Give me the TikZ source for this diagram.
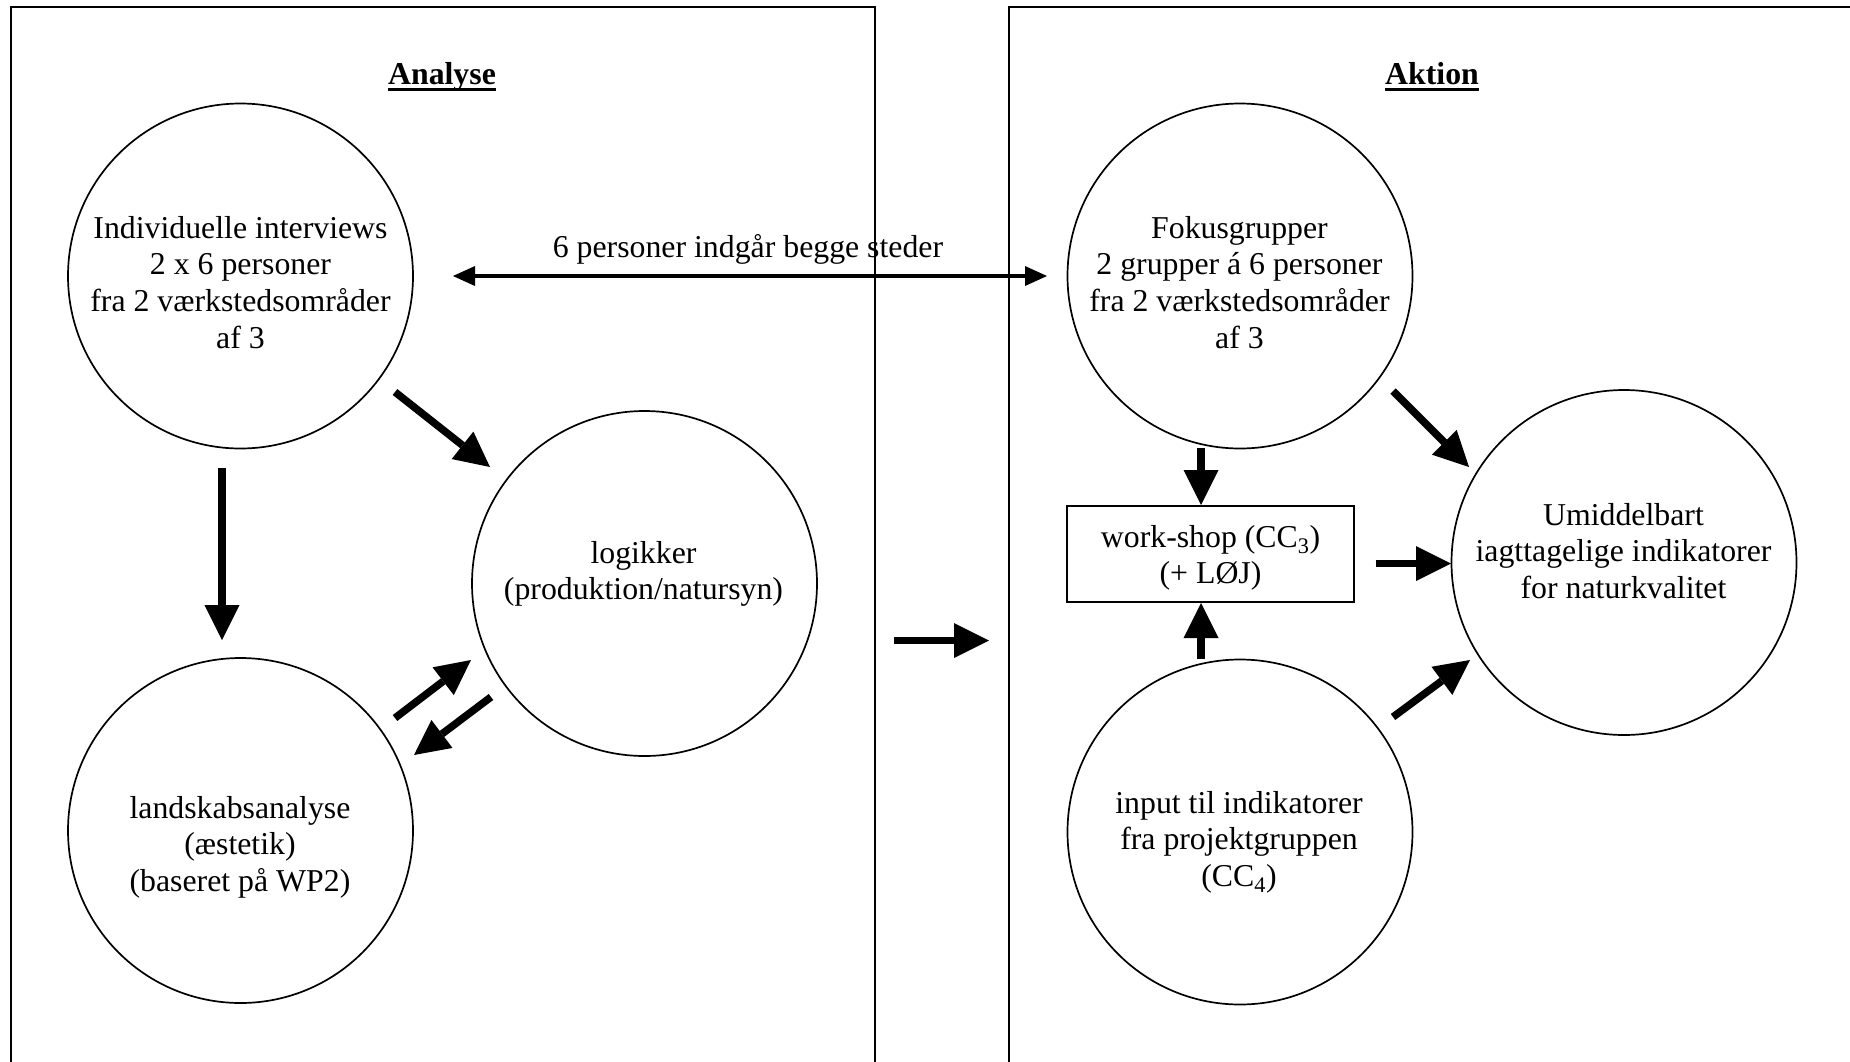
\documentclass[tikz,border=0pt]{standalone}
\usepackage{fontspec}
\setmainfont{Liberation Serif}
\usetikzlibrary{arrows.meta}
\newcommand\bodyfont{\fontsize{31.8pt}{36.9pt}\selectfont}
\newcommand\mlines[1]{\begin{tabular}[t]{@{}c@{}}#1\end{tabular}}
\begin{document}
\begin{tikzpicture}[x=1pt,y=-1pt,
  boxline/.style={line width=2pt, line join=miter},
  circ/.style={circle, draw, line width=1.7pt, minimum size=345pt, inner sep=0pt},
  wsbox/.style={rectangle, draw, line width=2pt, minimum width=287pt, minimum height=96pt, inner sep=0pt},
  txt/.style={anchor=base, inner sep=0pt, font=\bodyfont},
  titletxt/.style={anchor=base, inner sep=0pt, font=\bodyfont\bfseries},
  thickarr/.style={line width=7.5pt, -{Triangle[length=35pt,width=35pt,line width=0pt]}},
  dblarr/.style={line width=3.5pt, {Triangle[length=22pt,width=20pt,line width=0pt]}-{Triangle[length=22pt,width=20pt,line width=0pt]}}
]
\useasboundingbox (0,0) rectangle (1850,1061);
\fill[white] (0,0) rectangle (1850,1061);

% panels
\draw[boxline] (11,1068) -- (11,7) -- (875,7) -- (875,1068);
\draw[boxline] (1009,1068) -- (1009,7) -- (1858,7);

% titles
\node[titletxt] (tA) at (442,84.5) {Analyse};
\node[titletxt] (tB) at (1432,84.5) {Aktion};
\draw[line width=3.5pt] ([yshift=-5pt]tA.base west) -- ([yshift=-5pt]tA.base east);
\draw[line width=3.5pt] ([yshift=-5pt]tB.base west) -- ([yshift=-5pt]tB.base east);

% shapes
\node[circ] (ind) at (240.5,276) {};
\node[circ] (log) at (644.5,583.5) {};
\node[circ] (land) at (240.5,830.5) {};
\node[circ] (fok) at (1240,276) {};
\node[circ] (umi) at (1624,562.5) {};
\node[circ] (inp) at (1240,832) {};
\node[wsbox] (ws) at (1210.5,554) {};

% texts
\node[txt] (indT) at (240.5,238) {\mlines{Individuelle interviews\\2 x 6 personer\\fra 2 værkstedsområder\\af 3}};
\node[txt] (fokT) at (1239.5,238) {\mlines{Fokusgrupper\\2 grupper á 6 personer\\fra 2 værkstedsområder\\af 3}};
\node[txt] (logT) at (643.5,563) {\mlines{logikker\\(produktion/natursyn)}};
\node[txt] (landT) at (240,818) {\mlines{landskabsanalyse\\(æstetik)\\(baseret på WP2)}};
\node[txt] (umiT) at (1623.5,525) {\mlines{Umiddelbart\\iagttagelige indikatorer\\for naturkvalitet}};
\node[txt] (inpT) at (1239,813) {\mlines{input til indikatorer\\fra projektgruppen\\(CC\textsubscript{4})}};
\node[txt] (wsT) at (1210.5,547) {\mlines{work-shop (CC\textsubscript{3})\\(+ LØJ)}};

% double arrow and label
\draw[dblarr] ([shift={(212.5,0)}]ind.center) -- ([shift={(-193,0)}]fok.center);
\node[txt] (lbl) at (748,257) {6 personer indgår begge steder};

% thick arrows
\draw[thickarr] ([shift={(154.5,116)}]ind.center) -- ([shift={(-154.5,-116.5)}]log.center);
\draw[thickarr] ([shift={(-18.5,192)}]ind.center) -- ([shift={(-18.5,-190.5)}]land.center);
\draw[thickarr] ([shift={(154.5,-112.5)}]land.center) -- ([shift={(-173.5,76.5)}]log.center);
\draw[thickarr] ([shift={(-153.5,113.5)}]log.center) -- ([shift={(173.5,-75.5)}]land.center);

\coordinate (midA) at (894,640.5);
\coordinate (midB) at (989,640.5);
\draw[thickarr] (midA) -- (midB);

\draw[thickarr] ([shift={(-39,172)}]fok.center) -- ([shift={(-9.5,0)}]ws.north);
\draw[thickarr] ([shift={(-39,-173)}]inp.center) -- ([shift={(-9.5,0)}]ws.south);
\draw[thickarr] ([shift={(20.5,9.5)}]ws.east) -- ([shift={(-173,1)}]umi.center);
\draw[thickarr] ([shift={(153,115)}]fok.center) -- ([shift={(-155,-95.5)}]umi.center);
\draw[thickarr] ([shift={(153,-115)}]inp.center) -- ([shift={(-154,97.5)}]umi.center);
\end{tikzpicture}
\end{document}
